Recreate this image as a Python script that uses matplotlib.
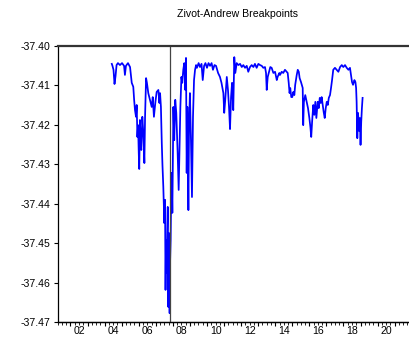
import matplotlib
matplotlib.use("Agg")
import matplotlib.pyplot as plt
from matplotlib.ticker import MultipleLocator, NullFormatter

plt.rcParams['font.family'] = ['Liberation Sans', 'DejaVu Sans']

title = "Zivot-Andrew Breakpoints"
break_date = 2007.84

dates = [
    2004.42, 2004.46, 2004.52, 2004.58, 2004.64, 2004.70, 2004.78, 2004.90, 2005.02, 2005.14,
    2005.19, 2005.25, 2005.37, 2005.49, 2005.59, 2005.68, 2005.73, 2005.78, 2005.84, 2005.88,
    2005.92, 2005.96, 2006.00, 2006.03, 2006.07, 2006.11, 2006.15, 2006.21, 2006.27, 2006.33,
    2006.37, 2006.43, 2006.48, 2006.56, 2006.66, 2006.76, 2006.82, 2006.89, 2006.97, 2007.05,
    2007.15, 2007.21, 2007.25,
    2007.30, 2007.35, 2007.39, 2007.44, 2007.50, 2007.54, 2007.57, 2007.60, 2007.64, 2007.67,
    2007.70, 2007.73, 2007.77, 2007.81, 2007.84, 2007.87, 2007.90, 2007.93, 2007.97, 2008.03,
    2008.08, 2008.14, 2008.20, 2008.28, 2008.34, 2008.38, 2008.44, 2008.50, 2008.55, 2008.61,
    2008.67, 2008.73, 2008.77, 2008.81, 2008.85, 2008.91, 2008.95, 2009.00, 2009.06, 2009.12,
    2009.18, 2009.24, 2009.30, 2009.36,
    2009.41, 2009.51, 2009.59, 2009.68, 2009.75, 2009.83, 2009.91, 2010.00, 2010.09, 2010.18,
    2010.27, 2010.35, 2010.44, 2010.53, 2010.65, 2010.76, 2010.85, 2010.96, 2011.01, 2011.07,
    2011.16, 2011.23, 2011.29, 2011.35, 2011.41, 2011.47, 2011.54, 2011.60, 2011.66, 2011.74,
    2011.84, 2011.94,
    2012.04, 2012.13, 2012.23, 2012.33, 2012.42, 2012.52, 2012.62, 2012.72, 2012.81, 2012.91,
    2013.01, 2013.11, 2013.21, 2013.30, 2013.40, 2013.46, 2013.50, 2013.56, 2013.64, 2013.71,
    2013.79, 2013.89, 2013.99, 2014.09, 2014.14, 2014.24, 2014.28, 2014.38, 2014.47, 2014.57,
    2014.67, 2014.73, 2014.79, 2014.84, 2014.88, 2014.94, 2015.00, 2015.06, 2015.12, 2015.17,
    2015.26, 2015.32, 2015.38, 2015.43,
    2015.51, 2015.61, 2015.64, 2015.68, 2015.76, 2015.84, 2015.92, 2016.00, 2016.06, 2016.11,
    2016.16, 2016.23, 2016.29, 2016.35, 2016.41, 2016.49, 2016.55, 2016.61, 2016.67, 2016.72,
    2016.78, 2016.84, 2016.90, 2016.96, 2017.02, 2017.08, 2017.14, 2017.21, 2017.27, 2017.33,
    2017.40, 2017.50, 2017.60, 2017.70, 2017.80, 2017.90, 2017.99, 2018.09, 2018.19, 2018.29,
    2018.38, 2018.44, 2018.50, 2018.56, 2018.64, 2018.70, 2018.74, 2018.77, 2018.81, 2018.85,
    2018.89, 2018.92, 2018.96, 2019.00, 2019.04, 2019.08, 2019.12,
]

values = [
    -37.4046, -37.4051, -37.4061, -37.4097, -37.4077, -37.4049, -37.4044, -37.4049, -37.4044, -37.4051,
    -37.4074, -37.4051, -37.4044, -37.4054, -37.4094, -37.4104, -37.4137, -37.4163, -37.4180, -37.4150,
    -37.4231, -37.4201, -37.4271, -37.4312, -37.4188, -37.4239, -37.4264, -37.4180, -37.4221, -37.4297,
    -37.4180, -37.4082, -37.4094, -37.4120, -37.4137, -37.4155, -37.4130, -37.4180, -37.4145, -37.4117,
    -37.4112, -37.4145, -37.4120,
    -37.4155, -37.4246, -37.4302, -37.4357, -37.4449, -37.4390, -37.4618, -37.4492, -37.4575, -37.4467,
    -37.4408, -37.4661, -37.4474, -37.4677, -37.4543, -37.4492, -37.4378, -37.4322, -37.4423, -37.4155,
    -37.4239, -37.4137, -37.4170, -37.4271, -37.4365, -37.4282, -37.4155, -37.4079, -37.4094, -37.4061,
    -37.4044, -37.4112, -37.4031, -37.4322, -37.4155, -37.4416, -37.4196, -37.4120, -37.4239, -37.4383,
    -37.4180, -37.4087, -37.4061, -37.4049,
    -37.4056, -37.4044, -37.4054, -37.4046, -37.4087, -37.4051, -37.4044, -37.4056, -37.4044, -37.4051,
    -37.4044, -37.4061, -37.4049, -37.4051, -37.4069, -37.4079, -37.4094, -37.4120, -37.4170, -37.4137,
    -37.4079, -37.4112, -37.4155, -37.4211, -37.4130, -37.4094, -37.4163, -37.4029, -37.4069, -37.4044,
    -37.4049, -37.4046,
    -37.4054, -37.4049, -37.4056, -37.4051, -37.4066, -37.4054, -37.4049, -37.4054, -37.4046, -37.4056,
    -37.4046, -37.4049, -37.4051, -37.4056, -37.4054, -37.4069, -37.4112, -37.4079, -37.4066, -37.4054,
    -37.4056, -37.4069, -37.4066, -37.4087, -37.4079, -37.4069, -37.4074, -37.4066, -37.4069, -37.4061,
    -37.4066, -37.4069, -37.4094, -37.4120, -37.4107, -37.4130, -37.4130, -37.4117, -37.4125, -37.4099,
    -37.4074, -37.4061, -37.4066, -37.4082,
    -37.4092, -37.4107, -37.4201, -37.4142, -37.4125, -37.4142, -37.4158, -37.4183, -37.4206, -37.4231,
    -37.4193, -37.4150, -37.4175, -37.4142, -37.4183, -37.4142, -37.4158, -37.4132, -37.4145, -37.4130,
    -37.4150, -37.4168, -37.4183, -37.4158, -37.4142, -37.4150, -37.4132, -37.4125, -37.4107, -37.4087,
    -37.4061, -37.4056, -37.4061, -37.4066, -37.4054, -37.4049, -37.4054, -37.4049, -37.4056, -37.4061,
    -37.4056, -37.4074, -37.4092, -37.4099, -37.4087, -37.4092, -37.4107, -37.4142, -37.4234, -37.4170,
    -37.4193, -37.4216, -37.4183, -37.4251, -37.4193, -37.4158, -37.4132,
]

y_ticks = [-37.47, -37.46, -37.45, -37.44, -37.43, -37.42, -37.41, -37.40]
x_label_years = [2002, 2004, 2006, 2008, 2010, 2012, 2014, 2016, 2018, 2020]

W, H = 409, 347
fig = plt.figure(figsize=(W / 100, H / 100), dpi=100)
left, bottom, top = 57.7, 322.3, 45.7
ax = fig.add_axes([left / W, (H - bottom) / H, 1.0 - left / W, (bottom - top) / H])

ax.plot(dates, values, color='#0000ff', lw=1.25)
ax.axvline(break_date, color='#444444', lw=0.9)

ax.set_xlim(2001.25, 2021.84)
ax.set_ylim(-37.47, -37.40)

ax.spines['right'].set_visible(False)
ax.spines['top'].set_color('#333333')
ax.spines['top'].set_linewidth(1.6)
ax.spines['left'].set_linewidth(0.9)
ax.spines['bottom'].set_linewidth(0.9)

ax.set_yticks(y_ticks)
ax.set_yticklabels([f"{v:.2f}" for v in y_ticks])
ax.tick_params(axis='y', direction='out', length=3, width=0.8, pad=2.5, labelsize=7.6)

# x labels centred in the year interval, no tick mark
ax.set_xticks([y + 0.5 for y in x_label_years])
ax.set_xticklabels([f"{y % 100:02d}" for y in x_label_years])
ax.tick_params(axis='x', length=0, pad=2.5, labelsize=7.6)

# tick marks: yearly major, quarterly minor
sec = ax.secondary_xaxis('bottom')
sec.xaxis.set_major_locator(MultipleLocator(1))
sec.xaxis.set_minor_locator(MultipleLocator(0.25))
sec.xaxis.set_major_formatter(NullFormatter())
sec.tick_params(which='major', length=3.2, width=0.8, direction='out')
sec.tick_params(which='minor', length=1.8, width=0.6, direction='out')
sec.spines['bottom'].set_linewidth(0.9)

fig.text(237.5 / W, 1 - 14 / H, title, ha='center', va='center', fontsize=7.6)

fig.savefig('out.png', dpi=100)
